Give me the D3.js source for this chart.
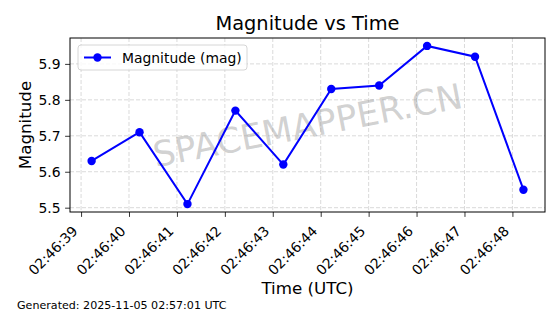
<!DOCTYPE html>
<html>
<head>
<meta charset="utf-8">
<script src="https://cdn.jsdelivr.net/npm/d3@7"></script>
<style>
  body { margin: 0; background: #fff; }
  text { font-family: "DejaVu Sans", sans-serif; }
</style>
</head>
<body>
<div id="chart"></div>
<script>
// data
var times = ["02:46:39.22", "02:46:40.22", "02:46:41.22", "02:46:42.22", "02:46:43.22",
             "02:46:44.22", "02:46:45.22", "02:46:46.22", "02:46:47.22", "02:46:48.23"];
var magnitudes = [5.63, 5.71, 5.51, 5.77, 5.62, 5.83, 5.84, 5.95, 5.92, 5.55];
var yTicks = [5.5, 5.6, 5.7, 5.8, 5.9];

var W = 560, H = 314;
var margin = {top: 38, right: 15, bottom: 102, left: 70},
    width = W - margin.left - margin.right,
    height = H - margin.top - margin.bottom;

var parseT = d3.utcParse("%Y-%m-%dT%H:%M:%S.%L");
var data = times.map(function(t, i) {
    return {t: parseT("2025-11-05T" + t + "0"), v: magnitudes[i]};
});

var svg = d3.select("#chart").append("svg")
    .attr("width", W)
    .attr("height", H);

// matplotlib style 5% margins
var tExt = d3.extent(data, function(d) { return d.t; });
var tPad = (tExt[1] - tExt[0]) * 0.05;
var vExt = d3.extent(magnitudes);
var vPad = (vExt[1] - vExt[0]) * 0.05;

var x = d3.scaleUtc()
    .domain([new Date(+tExt[0] - tPad), new Date(+tExt[1] + tPad)])
    .range([0, width]);
var y = d3.scaleLinear()
    .domain([vExt[0] - vPad, vExt[1] + vPad])
    .range([height, 0]);

var xTicks = x.ticks(d3.utcSecond.every(1));

var g = svg.append("g")
    .attr("transform", "translate(" + margin.left + "," + margin.top + ")");

// grid
g.append("g").selectAll("line.vg")
    .data(xTicks).enter().append("line")
    .attr("x1", function(d) { return x(d); })
    .attr("x2", function(d) { return x(d); })
    .attr("y1", 0).attr("y2", height)
    .attr("stroke", "#b0b0b0").attr("stroke-opacity", 0.6)
    .attr("stroke-width", 0.8).attr("stroke-dasharray", "4,2");
g.append("g").selectAll("line.hg")
    .data(yTicks).enter().append("line")
    .attr("y1", function(d) { return y(d); })
    .attr("y2", function(d) { return y(d); })
    .attr("x1", 0).attr("x2", width)
    .attr("stroke", "#b0b0b0").attr("stroke-opacity", 0.6)
    .attr("stroke-width", 0.8).attr("stroke-dasharray", "4,2");

// watermark
g.append("text")
    .attr("transform", "translate(" + (width / 2) + "," + (height / 2) + ") rotate(-11)")
    .attr("text-anchor", "middle")
    .attr("dy", "0.36em")
    .attr("fill", "#999")
    .attr("fill-opacity", 0.45)
    .style("font-size", "35px")
    .text("SPACEMAPPER.CN");

// line + markers
var line = d3.line()
    .x(function(d) { return x(d.t); })
    .y(function(d) { return y(d.v); });

g.append("path")
    .datum(data)
    .attr("fill", "none")
    .attr("stroke", "#0000ff")
    .attr("stroke-width", 2)
    .attr("d", line);

g.selectAll("circle.pt")
    .data(data).enter().append("circle")
    .attr("cx", function(d) { return x(d.t); })
    .attr("cy", function(d) { return y(d.v); })
    .attr("r", 4.2)
    .attr("fill", "#0000ff");

// axes
var xAxis = g.append("g")
    .attr("transform", "translate(0," + height + ")")
    .call(d3.axisBottom(x).tickValues(xTicks).tickFormat(d3.utcFormat("%H:%M:%S"))
        .tickSize(4.9).tickPadding(5).tickSizeOuter(0));
xAxis.selectAll("text")
    .style("font-size", "13.9px")
    .attr("text-anchor", "end")
    .attr("dy", null)
    .attr("y", null)
    .attr("transform", "translate(-3,20) rotate(-45)");

var yAxis = g.append("g")
    .call(d3.axisLeft(y).tickValues(yTicks).tickFormat(d3.format(".1f"))
        .tickSize(4.9).tickPadding(4.5).tickSizeOuter(0));
yAxis.selectAll("text").style("font-size", "13.9px");

[xAxis, yAxis].forEach(function(a) {
    a.select(".domain").remove();
    a.selectAll("line").attr("stroke", "#000").attr("stroke-width", 0.8);
    a.selectAll("text").attr("fill", "#000");
});

// frame
g.append("rect")
    .attr("width", width).attr("height", height)
    .attr("fill", "none").attr("stroke", "#000").attr("stroke-width", 1);

// legend
var lg = g.append("g").attr("transform", "translate(8,7)");
lg.append("rect")
    .attr("width", 169).attr("height", 25).attr("rx", 3)
    .attr("fill", "#fff").attr("fill-opacity", 0.8)
    .attr("stroke", "#ccc").attr("stroke-width", 0.8);
lg.append("line")
    .attr("x1", 6).attr("x2", 33).attr("y1", 12.5).attr("y2", 12.5)
    .attr("stroke", "#0000ff").attr("stroke-width", 2);
lg.append("circle")
    .attr("cx", 19.5).attr("cy", 12.5).attr("r", 4.2).attr("fill", "#0000ff");
lg.append("text")
    .attr("x", 44).attr("y", 17.5)
    .style("font-size", "13.9px")
    .text("Magnitude (mag)");

// titles
svg.append("text")
    .attr("x", margin.left + width / 2).attr("y", 30)
    .attr("text-anchor", "middle")
    .style("font-size", "19.4px")
    .text("Magnitude vs Time");

svg.append("text")
    .attr("x", margin.left + width / 2).attr("y", 294)
    .attr("text-anchor", "middle")
    .style("font-size", "16.7px")
    .text("Time (UTC)");

svg.append("text")
    .attr("transform", "translate(31," + (margin.top + height / 2) + ") rotate(-90)")
    .attr("text-anchor", "middle")
    .style("font-size", "16.7px")
    .text("Magnitude");

svg.append("text")
    .attr("x", 17).attr("y", 309)
    .style("font-size", "11.1px")
    .text("Generated: 2025-11-05 02:57:01 UTC");
</script>
</body>
</html>
